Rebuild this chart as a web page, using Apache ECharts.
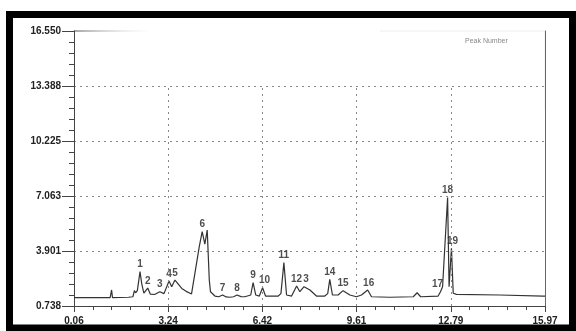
<!DOCTYPE html>
<html><head><meta charset="utf-8">
<script src="https://cdn.jsdelivr.net/npm/echarts@6/dist/echarts.min.js"></script>
<style>html,body{margin:0;padding:0;background:#fff}#c{width:576px;height:331px}</style>
</head><body><div id="c"></div>
<script>
const tickX = ['0.06','3.24','6.42','9.61','12.79','15.97'];
const tickY = ['0.738','3.901','7.063','10.225','13.388','16.550'];
const time = [0.06,1.28,1.30,1.33,1.36,1.90,2.05,2.10,2.14,2.20,2.29,2.35,2.42,2.55,2.64,2.78,2.96,3.10,3.27,3.36,3.47,3.70,3.85,4.03,4.29,4.39,4.48,4.56,4.63,4.67,4.82,4.95,5.08,5.20,5.33,5.45,5.57,5.70,5.83,6.03,6.11,6.20,6.32,6.43,6.53,6.96,7.05,7.15,7.24,7.41,7.58,7.69,7.83,8.03,8.25,8.53,8.63,8.70,8.79,8.98,9.15,9.38,9.60,9.77,9.98,10.11,10.73,11.52,11.65,11.77,12.36,12.44,12.47,12.51,12.68,12.73,12.81,12.87,12.98,14.44,15.90,15.97];
const signal = [1.22,1.22,1.22,1.66,1.22,1.24,1.27,1.62,1.50,1.62,2.71,2.00,1.48,1.77,1.42,1.40,1.56,1.45,2.17,1.85,2.23,1.75,1.58,1.43,4.14,5.01,4.30,5.10,2.23,1.56,1.31,1.27,1.37,1.26,1.24,1.27,1.37,1.28,1.27,1.37,2.08,1.37,1.31,1.79,1.31,1.31,1.45,3.23,1.37,1.31,1.89,1.56,1.85,1.66,1.31,1.31,1.45,2.27,1.37,1.37,1.62,1.37,1.27,1.37,1.66,1.27,1.24,1.27,1.50,1.27,1.31,1.56,1.45,1.85,6.98,1.85,4.05,1.47,1.41,1.37,1.31,1.31];
const peakNo = ['1','2','3','4','5','6','7','8','9','10','11','12','3','14','15','16','17','18','19'];
const peakTime = [2.29,2.55,2.96,3.27,3.47,4.39,5.08,5.57,6.11,6.43,7.15,7.58,7.83,8.70,9.15,9.98,12.44,12.68,12.81];
const peakVal = [2.71,1.77,1.56,2.17,2.23,5.01,1.37,1.37,2.08,1.79,3.23,1.89,1.85,2.27,1.62,1.66,1.56,6.98,4.05];

const x0 = parseFloat(tickX[0]), y0 = parseFloat(tickY[0]);
const xInt = (parseFloat(tickX[tickX.length-1]) - x0) / (tickX.length-1);
const yInt = (parseFloat(tickY[tickY.length-1]) - y0) / (tickY.length-1);
const lineData = time.map((t,i)=>[t-x0, signal[i]-y0]);
const labelShift = {9:2, 12:2, 16:-3, 18:1, 15:1};
const peakData = peakTime.map((t,i)=>({value:[t-x0, peakVal[i]-y0], name:peakNo[i],
  label:{offset:[labelShift[i]||0,0]}}));
const gridStyle = {type:[2,4],color:'#888',width:1};
const vGrid = tickX.slice(1,-1).map((s,i)=>[{coord:[(i+1)*xInt,0]},{coord:[(i+1)*xInt,(tickY.length-2)*yInt]}]);
const font = 'Liberation Sans, Arial, sans-serif';
const chart = echarts.init(document.getElementById('c'), null, {renderer:'canvas'});
chart.setOption({
  animation:false,
  backgroundColor:'#fff',
  grid:{left:74,right:31,top:31,bottom:25},
  xAxis:{type:'value',min:0,max:xInt*(tickX.length-1),interval:xInt,
    axisLine:{show:true,lineStyle:{color:'#444',width:1}},
    axisTick:{show:true,length:6,lineStyle:{color:'#444'}},
    minorTick:{show:true,splitNumber:5,length:4,lineStyle:{color:'#444'}},
    axisLabel:{margin:10,fontSize:10,fontWeight:'bold',fontFamily:font,color:'#222',
      formatter:v=>tickX[Math.round(v/xInt)]},
    splitLine:{show:false}},
  yAxis:[{type:'value',min:0,max:yInt*(tickY.length-1),interval:yInt,
    axisLine:{show:true,lineStyle:{color:'#444',width:1}},
    axisTick:{show:true,length:12,lineStyle:{color:'#444'}},
    minorTick:{show:true,splitNumber:5,length:5,lineStyle:{color:'#444'}},
    axisLabel:{margin:13,fontSize:10,fontWeight:'bold',fontFamily:font,color:'#222',
      formatter:v=>tickY[Math.round(v/yInt)]},
    splitLine:{show:true,showMinLine:false,showMaxLine:false,lineStyle:gridStyle}},
   {type:'value',position:'right',min:0,max:yInt*(tickY.length-1),
    axisLine:{show:true,lineStyle:{color:'#666',width:1}},axisTick:{show:false},axisLabel:{show:false},splitLine:{show:false}}],
  series:[
    {type:'line',data:lineData,showSymbol:false,smooth:false,lineStyle:{color:'#333',width:1.2},z:3,
      markLine:{silent:true,symbol:'none',label:{show:false},lineStyle:gridStyle,data:vGrid}},
    {type:'scatter',data:peakData,symbolSize:0,z:4,
      label:{show:true,position:'top',distance:2,formatter:p=>p.name,fontSize:10,fontWeight:'bold',fontFamily:font,color:'#222'}}
  ],
  graphic:[
    {type:'line',shape:{x1:74,y1:31,x2:150,y2:31},style:{stroke:new echarts.graphic.LinearGradient(0,0,1,0,[{offset:0,color:'#444'},{offset:1,color:'rgba(200,200,200,0)'}]),lineWidth:1}},
    {type:'polyline',shape:{points:[[380,31],[545,31],[545,110]]},style:{stroke:'#eee',lineWidth:1,fill:null}},
    {type:'text',left:465,top:38,style:{text:'Peak Number',fontSize:7,fill:'#888',fontFamily:font}},
    {type:'rect',shape:{x:9.5,y:14.5,width:563,height:313.5},style:{stroke:'#000',lineWidth:7,fill:null},z:100}
  ]
});
</script></body></html>
